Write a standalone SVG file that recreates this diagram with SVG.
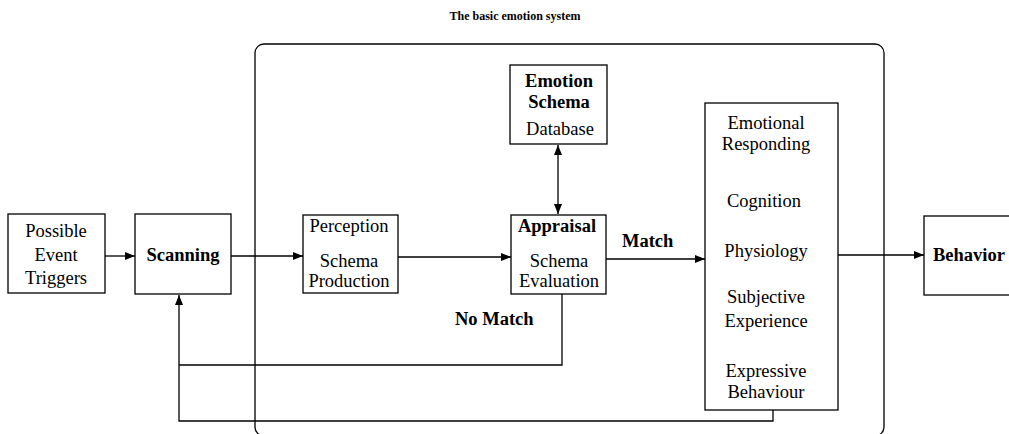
<svg xmlns="http://www.w3.org/2000/svg" width="1009" height="434" viewBox="0 0 1009 434" font-family="'Liberation Serif', 'DejaVu Serif', serif">
<style>
text{font-family:'Liberation Serif','DejaVu Serif',serif;font-size:18.5px;fill:#000;text-anchor:middle}
.b{font-weight:bold}
.l{text-anchor:start}
.t{font-size:12px}
.box{fill:#fff;stroke:#000;stroke-width:1.3}
.ln{fill:none;stroke:#000;stroke-width:1.3}
.ar{fill:none;stroke:#000;stroke-width:1.3;marker-end:url(#ah)}
</style>
<defs>
<marker id="ah" markerWidth="10" markerHeight="8" refX="10" refY="4" orient="auto" markerUnits="userSpaceOnUse">
<path d="M0,0 L10,4 L0,8 Z" fill="#000"/>
</marker>
<marker id="as" markerWidth="10" markerHeight="8" refX="0" refY="4" orient="auto" markerUnits="userSpaceOnUse">
<path d="M10,0 L0,4 L10,8 Z" fill="#000"/>
</marker>
</defs>
<rect fill="#fff" width="1009" height="434"/>
<text class="b t" x="515" y="20">The basic emotion system</text>
<g id="container"><rect class="ln" x="255" y="44" width="629" height="392" rx="9"/></g>
<g id="connectors">
<line class="ar" x1="105" y1="256" x2="135" y2="256"/>
<line class="ar" x1="231" y1="256" x2="303" y2="256"/>
<line class="ar" x1="398" y1="257" x2="511" y2="257"/>
<line class="ar" x1="606" y1="259" x2="705" y2="259"/>
<line class="ar" x1="838" y1="255" x2="924" y2="255"/>
<line class="ar" x1="558" y1="145" x2="558" y2="214" style="marker-start:url(#as)"/>
<polyline class="ln" points="562,294 562,365 179,365"/>
<polyline class="ar" points="773,410 773,421 179,421 179,295"/>
</g>
<g id="triggers"><rect class="box" x="8" y="214" width="97" height="79"/>
<text x="56" y="237">Possible</text><text x="56" y="261">Event</text><text x="56" y="284">Triggers</text></g>
<g id="scanning"><rect class="box" x="135" y="214" width="96" height="80"/>
<text class="b" x="183" y="261">Scanning</text></g>
<g id="perception"><rect class="box" x="303" y="215" width="95" height="78"/>
<text x="349" y="232">Perception</text><text x="349" y="267">Schema</text><text x="349" y="287">Production</text></g>
<g id="appraisal"><rect class="box" x="511" y="215" width="95" height="79"/>
<text class="b" x="557" y="232">Appraisal</text><text x="559" y="267">Schema</text><text x="559" y="287">Evaluation</text></g>
<g id="schema"><rect class="box" x="510" y="65" width="97" height="79"/>
<text class="b" x="559" y="87">Emotion</text><text class="b" x="559" y="108">Schema</text><text x="560" y="135">Database</text></g>
<g id="responding"><rect class="box" x="705" y="103" width="133" height="307"/>
<text x="766" y="129">Emotional</text><text x="766" y="150">Responding</text>
<text x="764" y="207">Cognition</text><text x="766" y="257">Physiology</text>
<text x="766" y="303">Subjective</text><text x="766" y="327">Experience</text>
<text x="766" y="377">Expressive</text><text x="766" y="398">Behaviour</text></g>
<g id="behavior"><rect class="box" x="924" y="216" width="100" height="79"/>
<text class="b l" x="933" y="261">Behavior</text></g>
<text class="b l" x="622" y="247">Match</text>
<text class="b l" x="455" y="325">No Match</text>
</svg>
